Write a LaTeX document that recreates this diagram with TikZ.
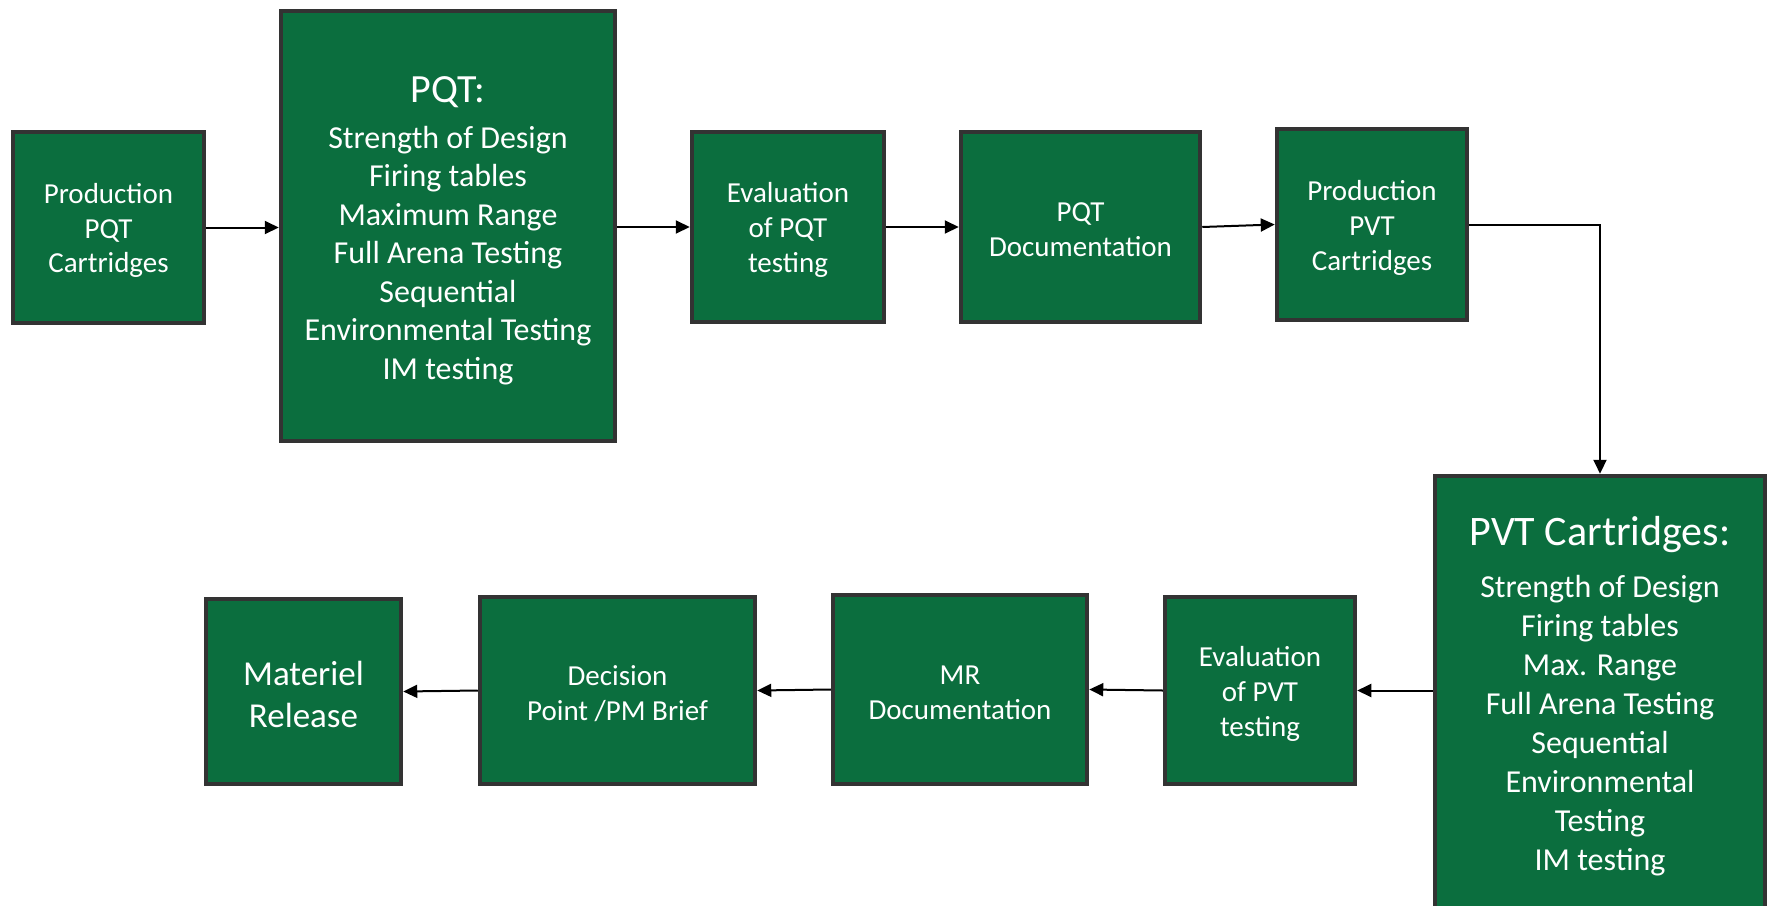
\documentclass[tikz,border=0pt]{standalone}
\usepackage{fontspec}
\setmainfont{Carlito}
\usetikzlibrary{arrows.meta}
\definecolor{boxgreen}{RGB}{11,110,62}
\definecolor{boxborder}{RGB}{51,51,51}
\tikzset{
  gbox/.style={draw=boxborder, line width=4.5pt, fill=boxgreen, inner sep=0pt},
  txt/.style={text=white, align=center, inner sep=0pt, font=\fontsize{29}{35}\selectfont},
  bigtxt/.style={txt, font=\fontsize{32}{38.5}\selectfont},
  conn/.style={draw=black, line width=2pt, -{Triangle[length=14pt,width=13pt]}}
}
\begin{document}
\begin{tikzpicture}[x=1pt,y=-1pt]
\useasboundingbox (0,0) rectangle (1769,905);
% boxes
\node[gbox, minimum width=191pt, minimum height=191pt] (prodpqt) at (108.5,227.5) {};
\node[gbox, minimum width=334pt, minimum height=430pt] (pqt) at (448,226) {};
\node[gbox, minimum width=192pt, minimum height=190pt] (evalpqt) at (788,227) {};
\node[gbox, minimum width=239pt, minimum height=190pt] (pqtdoc) at (1080.5,227) {};
\node[gbox, minimum width=190pt, minimum height=191pt] (prodpvt) at (1372,224.5) {};
\node[gbox, minimum width=330pt, minimum height=436pt] (pvt) at (1600,694) {};
\node[gbox, minimum width=190pt, minimum height=187pt] (evalpvt) at (1260,690.5) {};
\node[gbox, minimum width=254pt, minimum height=189pt] (mrdoc) at (960,689.5) {};
\node[gbox, minimum width=275pt, minimum height=187pt] (decision) at (617.5,690.5) {};
\node[gbox, minimum width=195pt, minimum height=185pt] (materiel) at (303.5,691.5) {};
% texts
\node[txt, font=\fontsize{29}{34.4}\selectfont] (prodpqt-t) at ([yshift=-3pt]prodpqt.center) {Production\\PQT\\Cartridges};
\node[bigtxt] (pqt-t) at ([yshift=-5pt]pqt.center) {{\fontsize{40}{40}\selectfont PQT:}\\[7pt]Strength of Design\\Firing tables\\Maximum Range\\Full Arena Testing\\Sequential\\Environmental Testing\\IM testing};
\node[txt] (evalpqt-t) at ([yshift=-3pt]evalpqt.center) {Evaluation\\of PQT\\testing};
\node[txt] (pqtdoc-t) at ([yshift=-3pt]pqtdoc.center) {PQT\\Documentation};
\node[txt] (prodpvt-t) at ([yshift=-3pt]prodpvt.center) {Production\\PVT\\Cartridges};
\node[bigtxt, font=\fontsize{32}{39}\selectfont] (pvt-t) at ([yshift=-2pt]pvt.center) {{\fontsize{42}{42}\selectfont PVT Cartridges:}\\[13pt]Strength of Design\\Firing tables\\Max. Range\\Full Arena Testing\\Sequential\\Environmental\\Testing\\IM testing};
\node[txt] (evalpvt-t) at ([yshift=-3pt]evalpvt.center) {Evaluation\\of PVT\\testing};
\node[txt] (mrdoc-t) at ([yshift=-3pt]mrdoc.center) {MR\\Documentation};
\node[txt] (decision-t) at ([yshift=-3pt]decision.center) {Decision\\Point /PM Brief};
\node[txt, font=\fontsize{35}{42}\selectfont] (materiel-t) at ([yshift=-3pt]materiel.center) {Materiel\\Release};
% connectors
\draw[conn] (prodpqt.east) -- (prodpqt.east -| pqt.west);
\draw[conn] (pqt.east |- evalpqt.west) -- (evalpqt.west);
\draw[conn] (evalpqt.east) -- (pqtdoc.west);
\draw[conn] (pqtdoc.east) -- (prodpvt.west);
\draw[conn] (prodpvt.east) -| (pvt.north);
\draw[conn] (pvt.west |- evalpvt.east) -- (evalpvt.east);
\draw[conn] (evalpvt.west) -- (mrdoc.east);
\draw[conn] (mrdoc.west) -- (decision.east);
\draw[conn] (decision.west) -- (materiel.east);
\end{tikzpicture}
\end{document}
